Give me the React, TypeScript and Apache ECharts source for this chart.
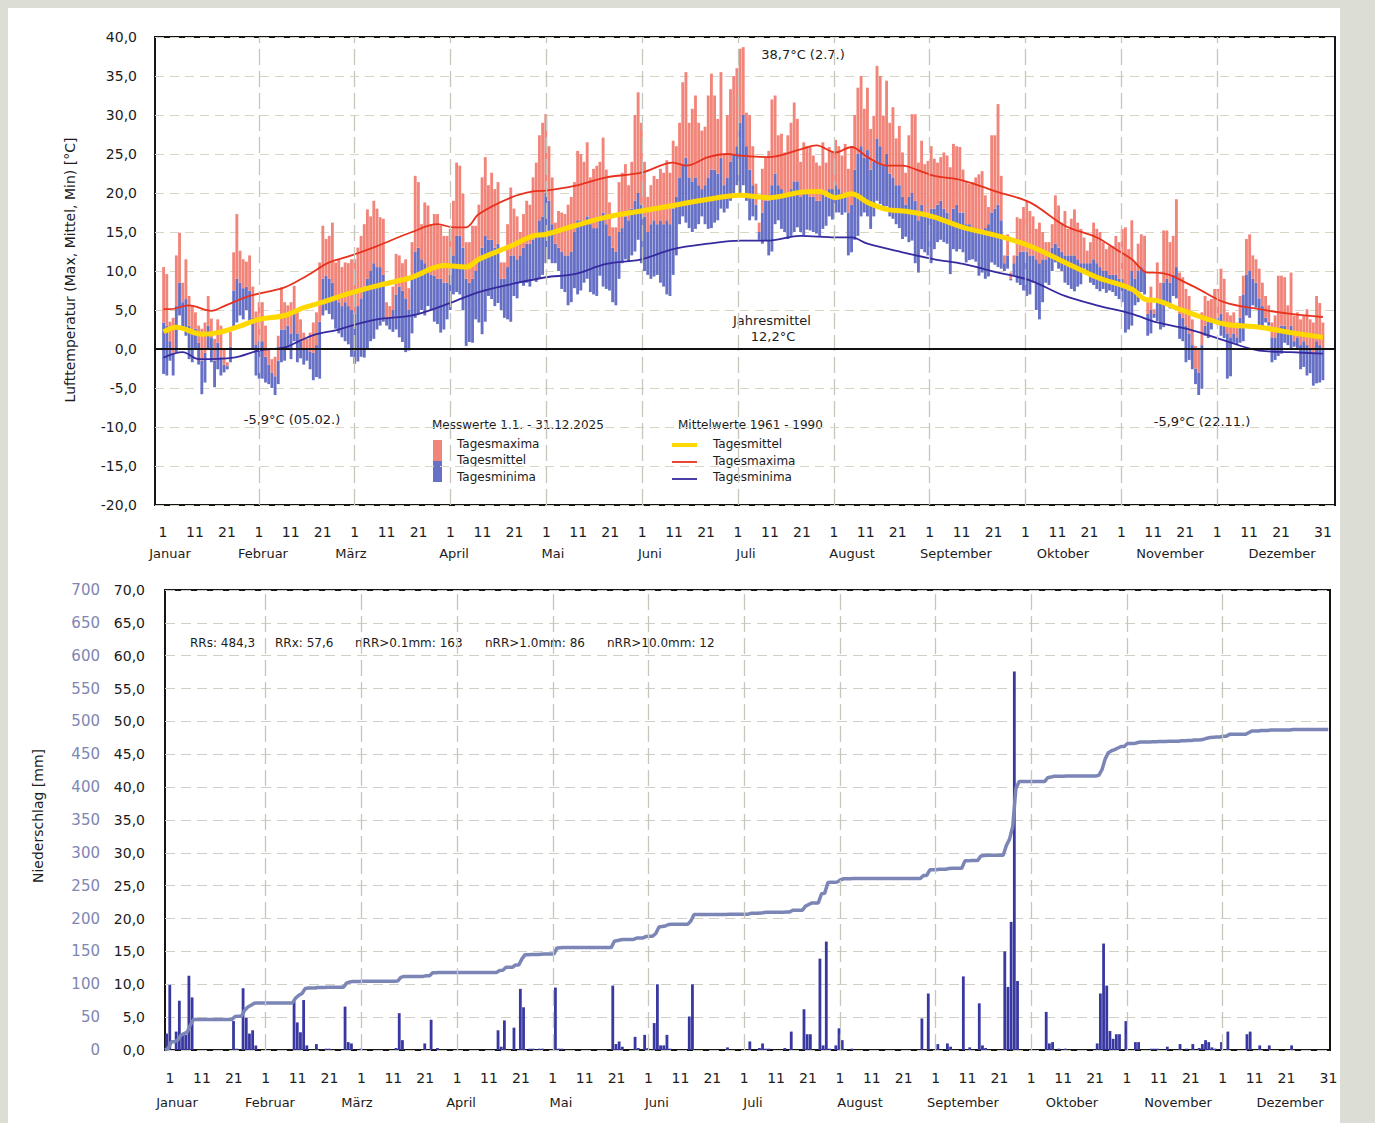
import React, { useEffect, useRef } from "react";
import * as echarts from "echarts";

// ---------------- DATA ----------------
// Daily air temperature 2025 (°C), day 1 = 1 Jan
const tMax = [
  // Jan
  10.5, 9.6, 3.5, 4.0, 12.0, 14.9, 8.5, 11.5, 6.8, 5.6, 4.7, 3.0, 2.6, 3.4, 6.8, 3.9, 1.3, 3.8, 3.0, 0.0, -1.7, 2.2, 12.4, 17.3, 12.6, 11.5, 11.2, 12.0, 8.0, 4.8, 6.0,
  // Feb
  6.0, 3.0, 0.0, -1.3, -1.0, 1.7, 7.9, 6.0, 5.6, 6.0, 8.1, 4.7, 3.8, 2.1, 1.3, 2.1, 3.4, 4.7, 11.1, 15.8, 14.1, 14.5, 16.2, 11.1, 11.5, 10.5, 11.1, 11.0,
  // Mar
  11.5, 11.5, 13.0, 14.5, 16.0, 17.9, 17.0, 19.0, 18.0, 16.9, 16.7, 6.0, 5.5, 8.0, 12.2, 12.0, 11.0, 11.5, 7.8, 13.7, 22.2, 21.4, 16.0, 18.8, 18.4, 16.0, 17.3, 17.3, 15.8, 14.5, 14.5,
  // Apr
  15.4, 19.0, 23.9, 23.5, 19.9, 13.7, 13.7, 15.8, 15.8, 18.5, 22.0, 24.6, 21.0, 22.6, 20.5, 21.4, 11.1, 11.1, 16.0, 20.7, 18.0, 17.0, 15.0, 17.3, 19.0, 18.5, 22.0, 23.9, 27.4, 29.0,
  // May
  30.1, 26.0, 22.0, 16.2, 17.7, 17.5, 17.3, 18.5, 19.5, 21.4, 25.4, 25.0, 24.0, 26.5, 22.0, 23.1, 23.5, 24.0, 27.1, 23.0, 18.8, 15.6, 15.6, 21.4, 22.6, 23.7, 21.0, 24.0, 30.0, 32.9, 29.0,
  // Jun
  24.0, 19.5, 21.0, 22.2, 21.8, 23.1, 22.6, 24.2, 22.6, 26.7, 26.0, 29.0, 34.2, 35.5, 29.0, 30.8, 32.5, 29.0, 28.0, 28.5, 32.5, 35.3, 32.5, 29.5, 35.5, 25.0, 30.0, 33.3, 35.0, 36.0,
  // Jul
  38.5, 38.7, 30.3, 30.0, 26.0, 21.2, 16.2, 23.1, 24.6, 25.4, 32.0, 32.5, 27.4, 27.6, 25.2, 27.4, 29.0, 31.6, 29.5, 24.0, 26.5, 26.0, 25.9, 24.8, 23.9, 23.5, 26.5, 23.9, 25.9, 25.4, 26.8,
  // Aug
  26.0, 24.8, 26.3, 23.1, 26.0, 30.0, 33.5, 35.0, 30.8, 33.5, 28.2, 29.9, 36.3, 35.0, 29.9, 34.4, 29.0, 31.0, 27.0, 28.6, 25.2, 22.6, 27.4, 30.1, 30.1, 23.9, 26.7, 23.7, 24.1, 26.0, 24.4,
  // Sep
  23.9, 24.6, 25.2, 24.8, 23.3, 26.3, 26.0, 25.9, 23.0, 21.4, 21.2, 21.4, 22.0, 22.4, 22.8, 19.7, 18.2, 27.4, 27.4, 31.4, 22.2, 12.0, 14.7, 9.8, 12.0, 16.9, 16.7, 18.2, 19.0, 17.7,
  // Oct
  17.0, 15.4, 16.2, 15.0, 13.7, 13.7, 16.0, 19.7, 18.4, 16.2, 17.7, 15.4, 16.7, 17.9, 16.2, 15.4, 14.3, 12.6, 13.7, 16.2, 15.4, 15.0, 13.7, 12.8, 13.2, 13.2, 14.5, 13.7, 15.4, 15.6, 12.8,
  // Nov
  16.5, 11.1, 13.5, 14.7, 14.5, 6.0, 8.0, 5.1, 11.1, 8.5, 15.2, 15.2, 13.7, 14.5, 19.2, 9.8, 9.2, 7.7, 6.8, 3.8, 0.4, 0.0, 4.7, 6.8, 6.2, 6.4, 7.7, 7.7, 10.3, 9.0,
  // Dec
  4.7, 4.3, 4.7, 3.4, 6.8, 9.4, 14.1, 14.7, 12.0, 11.5, 10.3, 8.5, 6.8, 5.6, 3.4, 4.3, 9.4, 9.4, 9.2, 5.6, 9.8, 4.3, 4.7, 3.8, 4.3, 5.1, 3.8, 3.4, 6.8, 5.9, 3.4,
];

const tMean = [
  // Jan
  3.4, 3.0, 1.0, -0.5, 5.5, 8.5, 6.0, 6.4, 3.0, 2.0, 2.6, 0.8, -1.5, -0.5, 3.0, 1.5, -1.5, 0.8, -1.0, -2.0, -2.2, 0.3, 7.5, 9.0, 8.5, 7.8, 8.0, 7.5, 4.0, 0.5, 1.0,
  // Feb
  1.0, -1.0, -2.0, -3.0, -3.5, -1.5, 2.5, 2.5, 3.0, 2.0, 4.5, 2.0, 1.0, 0.0, 0.0, -0.3, -0.5, 0.5, 3.5, 9.0, 9.4, 9.0, 8.5, 6.5, 6.0, 5.5, 6.0, 5.5,
  // Mar
  5.0, 4.5, 5.5, 6.5, 8.0, 9.0, 10.0, 11.0, 10.5, 10.5, 9.5, 4.0, 4.0, 5.0, 7.0, 8.0, 7.5, 6.5, 5.0, 9.0, 12.5, 13.0, 11.5, 11.0, 10.0, 9.5, 9.4, 9.0, 9.0, 8.5, 8.5,
  // Apr
  9.5, 12.0, 14.5, 14.5, 13.0, 9.0, 8.5, 9.0, 10.0, 11.5, 13.0, 14.5, 14.0, 14.0, 13.0, 13.5, 9.0, 9.0, 10.5, 12.0, 12.0, 11.5, 12.0, 13.0, 13.5, 13.5, 14.0, 14.5, 16.5, 17.0,
  // May
  20.0, 19.0, 16.0, 13.5, 13.0, 12.5, 12.0, 12.0, 12.5, 15.0, 16.5, 16.5, 16.0, 17.0, 16.0, 15.5, 15.5, 17.0, 17.5, 16.0, 14.5, 13.0, 12.5, 15.0, 15.5, 17.0, 16.5, 18.0, 19.0, 20.0, 18.5,
  // Jun
  17.0, 15.0, 16.0, 16.5, 16.0, 16.5, 16.0, 16.5, 16.0, 18.0, 19.5, 22.0, 23.5, 24.5, 22.0, 21.5, 22.0, 21.0, 20.5, 21.0, 22.0, 23.0, 23.0, 22.5, 24.5, 21.0, 22.0, 24.0, 25.0, 26.0,
  // Jul
  29.0, 30.0, 26.0, 23.0, 21.0, 18.5, 15.0, 17.5, 19.0, 19.0, 21.0, 22.5, 21.0, 20.5, 19.5, 19.5, 20.5, 21.5, 21.5, 19.5, 20.0, 20.0, 19.5, 19.5, 19.0, 19.0, 20.0, 19.5, 20.5, 20.5, 21.0,
  // Aug
  20.5, 20.0, 19.5, 17.5, 18.5, 23.0, 25.0, 26.0, 24.5, 25.5, 23.0, 24.0, 27.0, 26.0, 23.5, 25.0, 22.5, 22.0, 21.0, 21.0, 19.5, 18.5, 19.5, 20.0, 19.0, 16.5, 18.5, 17.5, 17.5, 18.0, 18.0,
  // Sep
  18.5, 19.0, 18.0, 17.5, 16.0, 18.0, 18.5, 17.5, 17.5, 16.0, 16.0, 15.5, 15.5, 15.0, 15.0, 15.5, 16.0, 17.5, 18.0, 18.5, 16.5, 11.0, 12.0, 9.0, 11.0, 12.0, 12.5, 12.5, 12.5, 12.0,
  // Oct
  12.0, 11.5, 11.0, 11.5, 11.5, 12.0, 13.0, 13.5, 13.0, 12.5, 12.0, 12.0, 12.0, 12.0, 11.5, 11.0, 11.0, 11.0, 11.0, 11.5, 11.0, 10.5, 10.0, 10.0, 9.5, 9.5, 9.5, 9.0, 9.0, 8.0, 7.5,
  // Nov
  10.0, 9.0, 10.0, 10.5, 10.0, 4.5, 5.0, 4.5, 6.5, 6.0, 8.5, 9.0, 8.5, 9.5, 10.5, 4.5, 4.0, 3.0, 2.0, 0.5, -2.5, -3.0, 0.5, 3.0, 3.5, 3.5, 3.5, 4.0, 4.5, 3.5,
  // Dec
  2.0, 1.5, 2.0, 1.5, 4.0, 7.0, 9.5, 10.0, 9.0, 8.5, 6.5, 5.5, 4.0, 3.5, 1.5, 1.5, 2.5, 3.0, 3.0, 2.5, 3.0, 1.0, 1.5, 0.5, 1.0, 0.5, 0.0, -0.5, 1.0, 0.5, 0.0,
];

const tMin = [
  // Jan
  -3.2, -3.4, -1.5, -3.4, -0.5, 4.3, 2.6, 1.7, -1.3, -1.7, 0.0, -2.0, -5.8, -4.3, 0.0, -1.7, -4.9, -2.6, -3.4, -3.0, -2.6, -1.7, 2.9, 3.4, 4.3, 3.8, 5.0, 3.4, 0.0, -3.4, -3.8,
  // Feb
  -3.8, -4.3, -4.5, -5.0, -5.9, -4.5, -1.7, -1.5, 0.0, -1.3, 1.0, -1.7, -1.2, -2.0, -1.5, -2.6, -4.0, -3.6, -3.8, 4.3, 5.0, 4.5, 3.8, 2.6, 2.0, 1.5, 1.0, 0.6,
  // Mar
  -1.0, -1.9, -1.6, -1.0, -1.1, 0.0, 1.0, 1.3, 2.5, 3.0, 3.5, 3.0, 2.5, 2.2, 2.5, 1.5, 0.9, -0.4, -0.2, 2.0, 4.0, 4.5, 5.0, 4.3, 5.5, 5.0, 3.5, 3.2, 2.1, 2.5, 3.8,
  // Apr
  5.0, 7.0, 7.3, 7.0, 5.0, 0.4, 0.9, 0.8, 3.8, 3.4, 1.9, 3.5, 6.8, 6.4, 5.5, 5.9, 5.0, 4.0, 3.8, 3.5, 6.8, 6.5, 8.5, 8.1, 8.5, 8.0, 9.0, 8.6, 9.0, 9.5,
  // May
  11.0, 11.5, 11.0, 11.0, 10.0, 7.7, 7.3, 5.6, 6.0, 7.8, 7.0, 7.5, 8.5, 9.0, 7.3, 7.0, 6.8, 9.4, 8.0, 7.7, 7.5, 6.0, 5.6, 9.0, 11.0, 11.5, 11.2, 12.0, 12.5, 14.0, 11.0,
  // Jun
  10.0, 9.5, 9.0, 9.3, 9.5, 8.5, 8.0, 7.0, 6.8, 9.5, 12.0, 16.0, 17.0, 16.2, 15.5, 15.0, 15.4, 16.0, 17.0, 16.0, 15.4, 15.5, 16.2, 16.5, 18.0, 17.5, 18.0, 19.0, 20.0, 21.0,
  // Jul
  20.0, 21.0, 19.0, 16.5, 17.0, 16.5, 14.0, 13.5, 13.9, 12.0, 12.5, 16.0, 16.5, 15.4, 15.0, 14.1, 14.5, 15.0, 15.6, 15.0, 14.6, 15.3, 15.2, 15.0, 14.8, 14.5, 15.4, 15.8, 17.0, 16.6, 17.5,
  // Aug
  17.5, 17.2, 17.5, 12.0, 12.4, 14.0, 14.5, 17.0, 17.5, 17.0, 15.4, 17.0, 19.0, 18.6, 18.0, 18.3, 17.0, 16.7, 16.0, 15.5, 14.1, 14.4, 13.7, 13.9, 11.0, 9.8, 12.8, 12.4, 12.0, 11.0, 12.8,
  // Sep
  13.7, 14.0, 13.7, 13.5, 9.6, 12.8, 12.5, 12.8, 12.4, 11.1, 11.4, 11.5, 11.2, 9.4, 9.8, 9.0, 9.3, 11.1, 10.8, 10.5, 10.3, 10.0, 10.3, 8.8, 9.4, 8.5, 8.2, 7.5, 6.8, 7.0,
  // Oct
  8.5, 5.0, 3.8, 6.0, 8.5, 8.2, 10.0, 11.1, 10.3, 10.0, 8.5, 8.2, 7.7, 7.4, 8.0, 8.3, 10.3, 10.0, 8.5, 8.2, 7.7, 7.4, 7.7, 7.2, 7.5, 7.3, 6.8, 6.4, 6.0, 2.1, 2.5,
  // Nov
  3.0, 5.6, 6.0, 7.3, 7.0, 1.7, 2.0, 4.0, 3.6, 2.5, 2.8, 5.6, 5.2, 6.8, 6.5, 1.3, 1.0, -1.7, -1.4, -2.6, -4.5, -5.9, -5.1, 1.7, 1.4, 2.5, 3.4, 3.1, 1.7, 1.4,
  // Dec
  -3.8, -3.5, 0.8, 0.5, 0.8, 1.0, 4.3, 4.0, 5.6, 5.3, 2.6, 2.9, 3.4, 3.0, -1.7, -1.4, -0.9, -0.6, 0.8, 0.5, 0.0, 0.3, 0.0, -2.6, -2.3, -3.4, -3.1, -4.7, -4.4, -4.3, -4.0,
];

// Long-term averages 1961-1990 (day of year, °C)
const climMeanDays = [1, 5, 13, 18, 24, 31, 39, 45, 51, 59, 68, 79, 89, 96, 100, 110, 117, 121, 130, 140, 151, 161, 172, 182, 191, 201, 207, 212, 217, 222, 228, 233, 238, 243, 252, 263, 273, 284, 294, 305, 309, 313, 320, 324, 334, 345, 355, 365];
const climMeanVals = [2.2, 2.8, 1.9, 2.1, 2.8, 3.8, 4.3, 5.3, 6.0, 7.1, 8.1, 9.2, 10.7, 10.5, 11.5, 13.2, 14.5, 14.7, 15.8, 16.9, 17.7, 18.4, 19.2, 19.7, 19.4, 20.1, 20.2, 19.4, 19.9, 18.8, 17.9, 17.7, 17.4, 16.9, 15.6, 14.5, 13.2, 11.1, 9.2, 7.7, 6.4, 6.2, 5.1, 4.5, 3.2, 2.8, 2.1, 1.5];

const climMaxDays = [1, 3, 9, 16, 20, 28, 39, 46, 53, 60, 68, 79, 87, 92, 96, 100, 110, 117, 121, 130, 140, 151, 161, 165, 172, 178, 182, 191, 201, 206, 212, 217, 222, 228, 233, 238, 243, 252, 263, 273, 284, 294, 300, 305, 310, 313, 324, 334, 345, 355, 365];
const climMaxVals = [5.1, 5.1, 5.6, 4.9, 5.5, 6.8, 7.9, 9.4, 11.1, 12.0, 13.2, 15.0, 16.0, 15.6, 15.6, 17.3, 19.4, 20.2, 20.3, 20.9, 22.0, 22.6, 23.9, 23.5, 24.6, 25.0, 24.8, 24.6, 25.6, 26.1, 25.2, 25.9, 24.6, 23.5, 23.5, 22.9, 22.2, 21.6, 20.1, 18.8, 15.8, 14.3, 12.8, 11.5, 9.8, 9.8, 8.1, 6.0, 5.1, 4.5, 4.1];

const climMinDays = [1, 7, 12, 23, 31, 39, 44, 49, 55, 60, 68, 79, 89, 100, 110, 121, 130, 140, 151, 161, 172, 182, 191, 201, 212, 217, 222, 233, 243, 252, 263, 273, 284, 294, 305, 313, 324, 334, 345, 355, 365];
const climMinVals = [-1.1, -0.4, -1.3, -1.1, -0.2, 0.2, 1.1, 1.9, 2.4, 3.0, 3.8, 4.3, 5.6, 7.3, 8.3, 9.2, 9.6, 10.9, 11.5, 12.8, 13.5, 13.9, 13.9, 14.5, 14.3, 14.3, 13.5, 12.4, 11.5, 10.9, 9.8, 8.8, 6.8, 5.6, 4.5, 3.4, 2.4, 1.1, -0.2, -0.4, -0.6];

// Daily precipitation [day of year, mm] (days without listing = 0)
const rainEvents: [number, number][] = [
  [1, 2.5], [2, 9.9], [4, 2.8], [5, 7.5], [6, 2.3], [7, 2.3], [8, 11.3], [9, 8.0],
  [22, 4.4], [23, 0.2], [25, 9.4], [26, 4.9], [27, 2.5], [28, 3.0], [29, 0.7],
  [41, 7.4], [42, 4.2], [43, 2.7], [44, 7.6], [45, 0.7], [48, 0.9], [51, 0.2], [52, 0.2],
  [57, 6.6], [58, 1.2], [59, 1.0], [62, 0.2],
  [73, 0.3], [74, 5.6], [75, 1.5], [82, 1.0], [84, 4.6], [86, 0.3],
  [105, 3.0], [106, 0.5], [107, 4.5], [110, 3.4], [112, 9.3], [113, 6.5], [115, 0.2], [116, 0.2], [118, 0.2], [119, 0.2],
  [123, 9.5], [124, 0.2], [125, 0.2],
  [141, 9.8], [142, 0.9], [143, 1.3], [144, 0.5], [148, 2.0], [149, 0.3], [151, 2.3], [152, 0.3], [154, 4.1], [155, 10.0], [156, 0.7], [157, 0.7], [158, 2.3], [159, 0.2],
  [165, 5.1], [166, 10.0],
  [177, 0.4], [184, 1.3], [187, 0.3], [188, 1.0], [189, 0.2], [190, 0.2], [195, 0.3], [197, 2.8],
  [201, 6.2], [202, 2.4], [203, 2.4], [206, 13.9], [207, 0.7], [208, 16.5], [209, 0.2], [211, 0.7], [212, 3.3], [213, 1.5], [216, 0.2],
  [238, 4.8], [240, 8.6], [243, 0.9], [246, 1.0], [247, 0.5], [251, 11.2], [253, 0.4], [256, 7.1], [257, 0.7], [258, 0.3],
  [264, 15.0], [265, 9.6], [266, 19.5], [267, 57.6], [268, 10.5],
  [277, 5.8], [278, 1.0], [279, 1.2], [281, 0.2], [283, 0.2],
  [293, 1.0], [294, 8.6], [295, 16.2], [296, 9.8], [297, 2.9], [298, 1.7], [299, 2.4], [300, 2.4], [302, 4.4], [305, 1.2], [306, 1.2],
  [310, 0.2], [311, 0.2], [312, 0.2], [315, 0.5], [319, 0.9], [321, 0.2], [323, 0.9], [325, 0.3], [326, 0.9], [327, 1.5], [328, 1.2], [329, 0.4], [330, 0.2],
  [332, 1.2], [334, 2.8], [340, 2.4], [341, 2.8], [344, 0.7], [347, 0.7], [354, 0.7],
];

const monthNames = ["Januar", "Februar", "März", "April", "Mai", "Juni", "Juli", "August", "September", "Oktober", "November", "Dezember"];
const dayTickLabels = ["1", "11", "21"];
const lastDayLabel = "31";
const statTexts = ["RRs: 484,3", "RRx: 57,6", "nRR>0.1mm: 163", "nRR>1.0mm: 86", "nRR>10.0mm: 12"];

// ---------------- LAYOUT / STYLE ----------------
const FONT = "DejaVu Sans";
const INK = "#1c1c1c";
const RED_BAR = "#f2857a";
const BLUE_BAR = "#6670c5";
const monthTopX = [170, 263, 351, 454, 553, 650, 746, 852, 956, 1063, 1170, 1282];
const monthBottomX = [177, 270, 357, 461, 561, 657, 753, 860, 963, 1072, 1178, 1290];
const statX = [190, 275, 355, 485, 607];
const monthBoundaryTicks = [3, 6, 9, 12, 15, 18, 21, 24, 27, 30, 33];

const fmtComma = (v: number) => v.toFixed(1).replace(".", ",");

function labelAxis(gridIndex: number, margin: number) {
  return {
    type: "value",
    gridIndex,
    min: 0,
    max: 36,
    interval: 1,
    axisLine: { show: false },
    axisTick: { show: false },
    splitLine: { show: false },
    axisLabel: {
      show: true,
      margin,
      fontSize: 14,
      color: INK,
      fontFamily: FONT,
      formatter: (v: number) => {
        const k = Math.round(v);
        return k === 36 ? "{e|" + lastDayLabel + "}" : dayTickLabels[k % 3];
      },
      rich: { e: { padding: [0, 0, 0, 20], fontSize: 14, color: INK, fontFamily: FONT } },
    },
  };
}

function txt(text: string, x: number, y: number, extra: any = {}, rotation = 0) {
  return {
    type: "text",
    x,
    y,
    rotation,
    silent: true,
    style: {
      text,
      fill: INK,
      fontSize: 13,
      fontFamily: FONT,
      align: "center",
      verticalAlign: "middle",
      ...extra,
    },
  };
}

export default function App() {
  const ref = useRef<HTMLDivElement>(null);

  useEffect(() => {
    document.body.style.margin = "0";
    const chart = echarts.init(ref.current!, undefined, { renderer: "svg" });

    const tempData = tMax.map((mx, i) => [i + 1, tMin[i], tMean[i], mx]);
    const daily = new Array(365).fill(0);
    rainEvents.forEach(([d, mm]) => (daily[d - 1] = mm));
    let acc = 0;
    const cumData: number[][] = [[0.5, 0]];
    daily.forEach((mm, i) => {
      acc += mm;
      cumData.push([i + 1.5, Math.round(acc * 10) / 10]);
    });

    const gridLineV = {
      silent: true,
      symbol: ["none", "none"],
      label: { show: false },
      lineStyle: { color: "#c6c6bd", type: [16, 6], width: 1.3 },
      data: monthBoundaryTicks.map((v) => ({ xAxis: v })),
    };

    const graphics: any[] = [];
    graphics.push(txt("Lufttemperatur (Max, Mittel, Min) [°C]", 70, 270, { fontSize: 14 }, Math.PI / 2));
    graphics.push(txt("Niederschlag [mm]", 38, 816, { fontSize: 14 }, Math.PI / 2));
    graphics.push(txt("38,7°C (2.7.)", 803, 54));
    graphics.push(txt("Jahresmittel", 772, 320));
    graphics.push(txt("12,2°C", 773, 336));
    graphics.push(txt("-5,9°C (05.02.)", 292, 419));
    graphics.push(txt("-5,9°C (22.11.)", 1202, 421));
    // legend: measured values
    graphics.push(txt("Messwerte 1.1. - 31.12.2025", 432, 425, { align: "left", fontSize: 12 }));
    graphics.push({ type: "rect", silent: true, shape: { x: 433, y: 440, width: 9, height: 21 }, style: { fill: RED_BAR } });
    graphics.push({ type: "rect", silent: true, shape: { x: 433, y: 461, width: 9, height: 21 }, style: { fill: BLUE_BAR } });
    graphics.push(txt("Tagesmaxima", 457, 444, { align: "left", fontSize: 12 }));
    graphics.push(txt("Tagesmittel", 457, 460, { align: "left", fontSize: 12 }));
    graphics.push(txt("Tagesminima", 457, 477, { align: "left", fontSize: 12 }));
    // legend: long-term means
    graphics.push(txt("Mittelwerte 1961 - 1990", 678, 425, { align: "left", fontSize: 12 }));
    graphics.push({ type: "line", silent: true, shape: { x1: 672, y1: 445, x2: 697, y2: 445 }, style: { stroke: "#ffd800", lineWidth: 4 } });
    graphics.push({ type: "line", silent: true, shape: { x1: 672, y1: 462, x2: 697, y2: 462 }, style: { stroke: "#e8321e", lineWidth: 1.8 } });
    graphics.push({ type: "line", silent: true, shape: { x1: 672, y1: 479, x2: 697, y2: 479 }, style: { stroke: "#352a9e", lineWidth: 1.8 } });
    graphics.push(txt("Tagesmittel", 713, 444, { align: "left", fontSize: 12 }));
    graphics.push(txt("Tagesmaxima", 713, 461, { align: "left", fontSize: 12 }));
    graphics.push(txt("Tagesminima", 713, 477, { align: "left", fontSize: 12 }));
    monthNames.forEach((m, i) => {
      graphics.push(txt(m, monthTopX[i], 553));
      graphics.push(txt(m, monthBottomX[i], 1102));
    });
    statTexts.forEach((s, i) => graphics.push(txt(s, statX[i], 643, { align: "left", fontSize: 12 })));

    const option: any = {
      animation: false,
      textStyle: { fontFamily: FONT },
      grid: [
        { left: 155, top: 37, width: 1180, height: 468, show: true, borderColor: "#151515", borderWidth: 2, outerBoundsMode: "none" },
        { left: 163, top: 37, width: 1150, height: 468, show: false, outerBoundsMode: "none" },
        { left: 165, top: 590, width: 1165, height: 460, show: true, borderColor: "#151515", borderWidth: 2, outerBoundsMode: "none" },
        { left: 170, top: 590, width: 1148.4, height: 460, show: false, outerBoundsMode: "none" },
      ],
      xAxis: [
        { type: "value", gridIndex: 0, min: -1.7, max: 368.8, show: false },
        labelAxis(1, 20),
        { type: "value", gridIndex: 2, min: 0.5, max: 366.05, show: false },
        labelAxis(3, 21),
      ],
      yAxis: [
        {
          type: "value",
          gridIndex: 0,
          min: -20,
          max: 40,
          interval: 5,
          axisLine: { show: false },
          axisTick: { show: false },
          axisLabel: { formatter: fmtComma, fontSize: 14, color: INK, margin: 18, fontFamily: FONT },
          splitLine: { show: true, lineStyle: { color: "#d8d5c2", type: [9, 6], width: 1 } },
        },
        { type: "value", gridIndex: 1, min: 0, max: 1, show: false },
        {
          type: "value",
          gridIndex: 2,
          min: 0,
          max: 70,
          interval: 5,
          axisLine: { show: false },
          axisTick: { show: false },
          axisLabel: { formatter: fmtComma, fontSize: 14, color: INK, margin: 20, fontFamily: FONT },
          splitLine: { show: true, lineStyle: { color: "#cfcfc4", type: [10, 6], width: 1.2 } },
        },
        {
          type: "value",
          gridIndex: 2,
          position: "left",
          offset: 45,
          min: 0,
          max: 700,
          interval: 50,
          axisLine: { show: false },
          axisTick: { show: false },
          splitLine: { show: false },
          axisLabel: { fontSize: 15, color: "#7e86b3", margin: 20, fontFamily: FONT },
        },
        { type: "value", gridIndex: 3, min: 0, max: 1, show: false },
      ],
      series: [
        // vertical month grid lines (top / bottom)
        { type: "line", xAxisIndex: 1, yAxisIndex: 1, data: [[0, 0]], symbol: "none", lineStyle: { opacity: 0 }, z: 1, markLine: gridLineV },
        { type: "line", xAxisIndex: 3, yAxisIndex: 4, data: [[0, 0]], symbol: "none", lineStyle: { opacity: 0 }, z: 1, markLine: gridLineV },
        // daily temperature bars
        {
          type: "custom",
          xAxisIndex: 0,
          yAxisIndex: 0,
          z: 2,
          data: tempData,
          encode: { x: 0, y: [1, 2, 3] },
          renderItem: (_params: any, api: any) => {
            const d = api.value(0);
            const lo = api.coord([d, api.value(1)]);
            const mid = api.coord([d, api.value(2)]);
            const hi = api.coord([d, api.value(3)]);
            const w = api.size([1, 0])[0] * 0.9;
            return {
              type: "group",
              children: [
                { type: "rect", shape: { x: lo[0] - w / 2, y: mid[1], width: w, height: Math.max(lo[1] - mid[1], 0.6) }, style: { fill: BLUE_BAR } },
                { type: "rect", shape: { x: hi[0] - w / 2, y: hi[1], width: w, height: Math.max(mid[1] - hi[1], 0.6) }, style: { fill: RED_BAR } },
              ],
            };
          },
        },
        {
          type: "line",
          xAxisIndex: 0,
          yAxisIndex: 0,
          z: 4,
          data: climMaxDays.map((d, i) => [d, climMaxVals[i]]),
          symbol: "none",
          smooth: 0.35,
          lineStyle: { color: "#e8321e", width: 1.8 },
        },
        {
          type: "line",
          xAxisIndex: 0,
          yAxisIndex: 0,
          z: 4,
          data: climMinDays.map((d, i) => [d, climMinVals[i]]),
          symbol: "none",
          smooth: 0.35,
          lineStyle: { color: "#352a9e", width: 1.8 },
        },
        {
          type: "line",
          xAxisIndex: 0,
          yAxisIndex: 0,
          z: 5,
          data: climMeanDays.map((d, i) => [d, climMeanVals[i]]),
          symbol: "none",
          smooth: 0.35,
          lineStyle: { color: "#ffd800", width: 5 },
        },
        // zero line
        {
          type: "line",
          xAxisIndex: 0,
          yAxisIndex: 0,
          data: [],
          z: 6,
          markLine: {
            silent: true,
            symbol: ["none", "none"],
            label: { show: false },
            lineStyle: { color: "#111", width: 2, type: "solid" },
            data: [{ yAxis: 0 }],
          },
        },
        // precipitation bars
        {
          type: "bar",
          xAxisIndex: 2,
          yAxisIndex: 2,
          z: 2,
          barWidth: 2.8,
          data: rainEvents.map(([d, mm]) => [d, mm]),
          itemStyle: { color: "#3838a0" },
        },
        // cumulative precipitation
        {
          type: "line",
          xAxisIndex: 2,
          yAxisIndex: 3,
          z: 4,
          data: cumData,
          symbol: "none",
          lineStyle: { color: "#7b86b6", width: 3.5 },
        },
      ],
      graphic: { elements: graphics },
    };

    chart.setOption(option);
    return () => chart.dispose();
  }, []);

  return (
    <div style={{ position: "relative", width: 1375, height: 1123, background: "#dcddd5", overflow: "hidden" }}>
      <div style={{ position: "absolute", left: 8, top: 8, width: 1332, height: 1115, background: "#ffffff" }} />
      <div ref={ref} style={{ position: "absolute", left: 0, top: 0, width: 1375, height: 1123 }} />
    </div>
  );
}
